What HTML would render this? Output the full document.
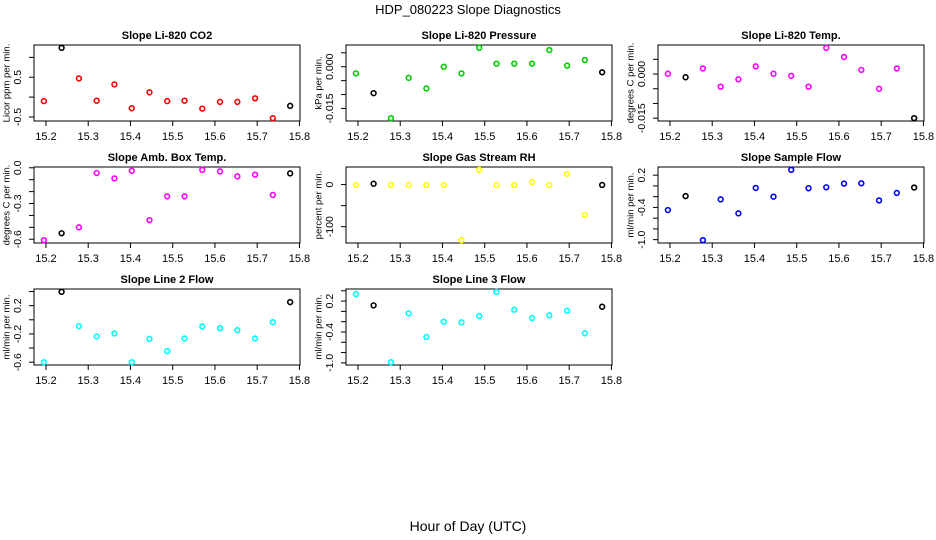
<!DOCTYPE html>
<html><head><meta charset="utf-8">
<style>
html,body{margin:0;padding:0;background:#fff;}
svg{display:block;font-family:"Liberation Sans",sans-serif;}
</style></head>
<body>
<svg id="chart" width="936" height="540" viewBox="0 0 936 540">
<text x="468" y="14" text-anchor="middle" font-size="13">HDP_080223  Slope Diagnostics</text>
<text x="468" y="531" text-anchor="middle" font-size="14">Hour of Day (UTC)</text>
</svg>
<script>
const hours = [15.195,15.237,15.278,15.32,15.362,15.403,15.445,15.487,15.528,15.57,15.612,15.653,15.695,15.737,15.778];
const xTicks = [15.2,15.3,15.4,15.5,15.6,15.7,15.8];
const xTickLabels = ["15.2","15.3","15.4","15.5","15.6","15.7","15.8"];
const blackIdx = [1,14];

const co2Vals = [-0.1,1.24,0.47,-0.09,0.32,-0.28,0.12,-0.1,-0.09,-0.29,-0.12,-0.12,-0.03,-0.53,-0.22];
const co2Ticks = [-0.5,0,0.5,1];
const co2Labels = ["-0.5","","0.5",""];

const presVals = [-0.0024,-0.0095,-0.0185,-0.004,-0.0078,0,-0.0024,0.0068,0.0011,0.0011,0.0011,0.006,0.0004,0.0024,-0.002];
const presTicks = [-0.015,-0.01,-0.005,0,0.005];
const presLabels = ["-0.015","","","0.000",""];

const tempVals = [0.0001,-0.0011,0.0019,-0.0043,-0.0018,0.0026,0.0001,-0.0006,-0.0043,0.0089,0.0058,0.0014,-0.005,0.0019,-0.015];
const tempTicks = [-0.015,-0.01,-0.005,0,0.005];
const tempLabels = ["-0.015","","","0.000",""];

const ambVals = [-0.608,-0.55,-0.5,-0.044,-0.089,-0.025,-0.44,-0.24,-0.24,-0.017,-0.03,-0.072,-0.058,-0.228,-0.047];
const ambTicks = [-0.6,-0.5,-0.4,-0.3,-0.2,-0.1,0];
const ambLabels = ["-0.6","","","-0.3","","","0.0"];

const rhVals = [-1,2,-1,-1,-1,-1,-132,35,-1,-1,6,-1,25,-72,-1];
const rhTicks = [-100,-50,0];
const rhLabels = ["-100","","0"];

const flowVals = [-0.449,-0.19,-1.01,-0.25,-0.51,-0.037,-0.2,0.3,-0.043,-0.025,0.043,0.049,-0.27,-0.13,-0.03];
const flowTicks = [-1,-0.8,-0.6,-0.4,-0.2,0,0.2];
const flowLabels = ["-1.0","","","-0.4","","","0.2"];

const line2Vals = [-0.6,0.396,-0.09,-0.236,-0.193,-0.6,-0.27,-0.443,-0.264,-0.094,-0.118,-0.146,-0.264,-0.033,0.25];
const line2Ticks = [-0.6,-0.4,-0.2,0,0.2,0.4];
const line2Labels = ["-0.6","","-0.2","","0.2",""];

const line3Vals = [0.335,0.116,-0.987,-0.039,-0.497,-0.2,-0.213,-0.09,0.38,0.032,-0.129,-0.077,0.013,-0.426,0.09];
const line3Ticks = [-1,-0.8,-0.6,-0.4,-0.2,0,0.2,0.4];
const line3Labels = ["-1.0","","","-0.4","","","0.2",""];

const panels = [
 {name:"co2",title:"Slope Li-820 CO2",ylab:"Licor ppm per min.",vals:co2Vals,ticks:co2Ticks,labels:co2Labels,color:"#ff0000",col:0,row:0},
 {name:"pressure",title:"Slope Li-820 Pressure",ylab:"kPa per min.",vals:presVals,ticks:presTicks,labels:presLabels,color:"#00cc00",col:1,row:0},
 {name:"temp",title:"Slope Li-820 Temp.",ylab:"degrees C per min.",vals:tempVals,ticks:tempTicks,labels:tempLabels,color:"#ff00ff",col:2,row:0},
 {name:"amb-box-temp",title:"Slope Amb. Box Temp.",ylab:"degrees C per min.",vals:ambVals,ticks:ambTicks,labels:ambLabels,color:"#ff00ff",col:0,row:1},
 {name:"gas-stream-rh",title:"Slope Gas Stream RH",ylab:"percent per min.",vals:rhVals,ticks:rhTicks,labels:rhLabels,color:"#ffff00",col:1,row:1},
 {name:"sample-flow",title:"Slope Sample Flow",ylab:"ml/min per min.",vals:flowVals,ticks:flowTicks,labels:flowLabels,color:"#0000ff",col:2,row:1},
 {name:"line2-flow",title:"Slope Line 2 Flow",ylab:"ml/min per min.",vals:line2Vals,ticks:line2Ticks,labels:line2Labels,color:"#00ffff",col:0,row:2},
 {name:"line3-flow",title:"Slope Line 3 Flow",ylab:"ml/min per min.",vals:line3Vals,ticks:line3Ticks,labels:line3Labels,color:"#00ffff",col:1,row:2}
];

const svg = document.getElementById('chart');
const NS = "http://www.w3.org/2000/svg";
function mk(tag, attrs, parent){
  const e = document.createElementNS(NS, tag);
  for (const k in attrs) e.setAttribute(k, attrs[k]);
  parent.appendChild(e);
  return e;
}
function ext(arr){
  const mn=Math.min(...arr), mx=Math.max(...arr), r=mx-mn||1;
  return [mn-0.04*r, mx+0.04*r];
}
const xl = ext(hours);

panels.forEach(p=>{
  const L = 34 + p.col*312, R = 300 + p.col*312;
  const T = 45 + p.row*122, B = 121 + p.row*122;
  const yl = ext(p.vals);
  const xs = v => L + (v - xl[0])/(xl[1]-xl[0])*(R-L);
  const ys = v => B - (v - yl[0])/(yl[1]-yl[0])*(B-T);
  const g = mk('g', {}, svg);
  
  
  const t = mk('text', {x:(L+R)/2, y:T-6, 'text-anchor':'middle', 'font-size':11, 'font-weight':'bold'}, g);
  t.textContent = p.title;
  
  
  const box = mk('rect', {x:L, y:T, width:R-L, height:B-T, fill:'none', stroke:'#000', 'stroke-width':1}, g);
  
  
  const xa = mk('g', {}, g);
  
  
  mk('line', {x1:xs(xTicks[0]), x2:xs(xTicks[xTicks.length-1]), y1:B, y2:B, stroke:'#000'}, xa);
  xTicks.forEach((v,i)=>{
    mk('line', {x1:xs(v), x2:xs(v), y1:B, y2:B+5, stroke:'#000'}, xa);
    const tl = mk('text', {x:xs(v), y:B+19, 'text-anchor':'middle', 'font-size':11}, xa);
    tl.textContent = xTickLabels[i];
    
    
  });
  const ya = mk('g', {}, g);
  
  
  mk('line', {x1:L, x2:L, y1:ys(p.ticks[0]), y2:ys(p.ticks[p.ticks.length-1]), stroke:'#000'}, ya);
  p.ticks.forEach((v,i)=>{
    mk('line', {x1:L-5, x2:L, y1:ys(v), y2:ys(v), stroke:'#000'}, ya);
    if (p.labels[i]) {
      const yy = ys(v);
      const tl = mk('text', {x:L-16, y:yy, 'text-anchor':'middle', 'font-size':10.5, transform:'rotate(-90 '+(L-16)+' '+yy+')', 'dominant-baseline':'middle'}, ya);
      tl.textContent = p.labels[i];
      
      
    }
  });
  const yt = mk('text', {x:L-27, y:(T+B)/2, 'text-anchor':'middle', 'font-size':9.5, transform:'rotate(-90 '+(L-27)+' '+((T+B)/2)+')', 'dominant-baseline':'middle'}, g);
  yt.textContent = p.ylab;
  
  
  p.vals.forEach((v,i)=>{
    const c = mk('circle', {cx:xs(hours[i]), cy:ys(v), r:2.4, fill:'none', stroke: blackIdx.includes(i)?'#000':p.color, 'stroke-width':1.6}, g);
    
    
  });
});
</script>
</body></html>
